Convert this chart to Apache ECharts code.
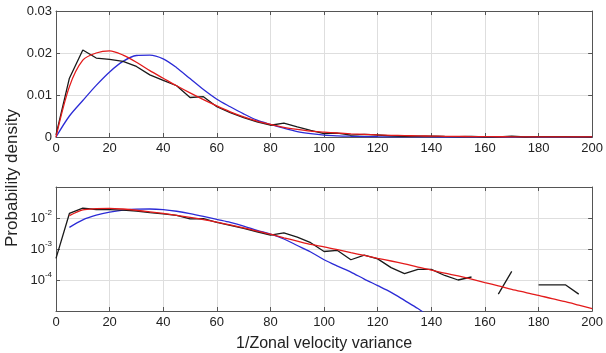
<!DOCTYPE html>
<html><head><meta charset="utf-8">
<script src="https://cdn.jsdelivr.net/npm/echarts@6/dist/echarts.min.js"></script>
<style>html,body{margin:0;padding:0;background:#fff}#c{width:606px;height:353px}</style>
</head><body><div id="c"></div><script>
// x positions (1/Zonal velocity variance)
const xVals = [0,5,10,15,20,25,30,35,40,45,50,55,60,65,70,75,80,85,90,95,100,105,110,115,120,125,130,135,140,145,150,155,160,165,170,175,180,185,190,195,200];
// empirical histogram (black)
const blackVals = [0.0005,0.014,0.0207,0.0188,0.0185,0.018,0.0168,0.0148,0.0135,0.0122,0.0094,0.0096,0.0072,0.0058,0.0046,0.0036,0.0028,0.0033,0.0024,0.0016,0.00083,0.0009,0.00045,0.00063,0.00048,0.00025,0.00016,0.00022,0.00022,0.00014,0.0001,0.000125,0,0.000035,0.00019,0,0.00007,0.00007,0.00007,0.000035,0];
// fitted curve (red)
const redVals = [0,0.012,0.0183,0.0200,0.0205,0.0195,0.0178,0.0158,0.0140,0.0122,0.0105,0.0089,0.0074,0.006,0.0048,0.0038,0.003,0.0023,0.0018,0.0014,0.00117,0.00095,0.00076,0.00062,0.0005,0.00041,0.00033,0.00026,0.00021,0.000166,0.000135,0.000107,0.000083,0.000065,0.00005,0.00004,0.000032,0.000025,0.00002,0.0000155,0.000012];
// fitted curve (blue)
const blueVals = [0,0.005,0.0087,0.0123,0.0155,0.0180,0.0194,0.0195,0.0186,0.0165,0.0139,0.0113,0.0090,0.0072,0.0055,0.0040,0.003,0.0021,0.0013,0.0008,0.00045,0.00028,0.00018,0.000107,0.000066,0.00004,0.000022,0.000012,0.000006,0.000003,0.0000015,7e-7,3e-7,1.5e-7,7e-8,3e-8,1.5e-8,7e-9,3e-9,1.5e-9,7e-10];
const xTicks = {min:0, max:200, interval:20};
const linTicks = {min:0, max:0.03, interval:0.01};
const logRange = {min:1e-5, max:1e-1};
const logLabelExps = [-2,-3,-4];

const lin = v => xVals.map((x,i)=>[x, v[i]]);
const logd = v => xVals.map((x,i)=>[x, v[i] > 0 ? v[i] : null]);

const frameColor = '#555';
const gridColor = '#dedede';
const txt = '#222';
const font = 'Liberation Sans, Arial, sans-serif';

function xAx(g, pos, main) {
  return {
    gridIndex: g, type: 'value', position: pos, min: xTicks.min, max: xTicks.max, interval: xTicks.interval,
    axisLine: {show: true, onZero: false, lineStyle: {color: frameColor, width: 1}},
    axisTick: {show: true, inside: true, length: 4, lineStyle: {color: frameColor}},
    axisLabel: {show: main, color: txt, fontSize: 13, fontFamily: font, margin: 5},
    splitLine: {show: main, lineStyle: {color: gridColor, width: 1}},
    name: (main && g === 1) ? '1/Zonal velocity variance' : '',
    nameLocation: 'middle', nameGap: 25,
    nameTextStyle: {color: txt, fontSize: 16, fontFamily: font}
  };
}
function yLin(pos, main) {
  return {
    gridIndex: 0, type: 'value', position: pos, min: linTicks.min, max: linTicks.max, interval: linTicks.interval,
    axisLine: {show: true, onZero: false, lineStyle: {color: frameColor}},
    axisTick: {show: true, inside: true, length: 4, lineStyle: {color: frameColor}},
    axisLabel: {show: main, color: txt, fontSize: 13, fontFamily: font, margin: 4,
      formatter: v => v === 0 ? '0' : v.toFixed(2)},
    splitLine: {show: main, lineStyle: {color: gridColor}}
  };
}
function yLog(pos, main) {
  return {
    gridIndex: 1, type: 'log', logBase: 10, position: pos, min: logRange.min, max: logRange.max,
    axisLine: {show: true, onZero: false, lineStyle: {color: frameColor}},
    axisTick: {show: true, inside: true, length: 4, lineStyle: {color: frameColor}},
    axisLabel: {show: main, color: txt, fontFamily: font, margin: 4,
      formatter: v => { const e = Math.round(Math.log10(v)); return logLabelExps.indexOf(e) >= 0 ? '{b|10}{s|' + e + '}' : ''; },
      rich: {b: {fontSize: 13, fontFamily: font, color: txt, lineHeight: 18},
             s: {fontSize: 8, fontFamily: font, color: txt, verticalAlign: 'top', lineHeight: 9}}},
    splitLine: {show: main, lineStyle: {color: gridColor}}
  };
}
function ser(data, color, xi, yi, z, smooth) {
  return {type: 'line', data: data, xAxisIndex: xi, yAxisIndex: yi, showSymbol: false, symbol: 'none',
    smooth: smooth, lineStyle: {color: color, width: 1.3}, connectNulls: false, z: z, animation: false, clip: true};
}

const chart = echarts.init(document.getElementById('c'), null, {renderer: 'canvas'});
chart.setOption({
  animation: false,
  backgroundColor: '#fff',
  grid: [
    {left: 56, width: 539, top: 11, height: 126},
    {left: 56, width: 539, top: 187, height: 126}
  ],
  xAxis: [xAx(0,'bottom',true), xAx(0,'top',false), xAx(1,'bottom',true), xAx(1,'top',false)],
  yAxis: [yLin('left',true), yLin('right',false), yLog('left',true), yLog('right',false)],
  graphic: [{type: 'text', x: 12, y: 178, rotation: Math.PI/2,
    style: {text: 'Probability density', fill: txt, fontSize: 17, fontFamily: font, align: 'center', verticalAlign: 'middle'}}],
  series: [
    ser(lin(blueVals), '#2b2bd6', 0, 0, 3, 0.3),
    ser(lin(blackVals), '#1a1a1a', 0, 0, 4, false),
    ser(lin(redVals), '#e31b1b', 0, 0, 5, 0.3),
    ser(logd(blueVals), '#2b2bd6', 2, 2, 3, 0.3),
    ser(logd(blackVals), '#1a1a1a', 2, 2, 4, false),
    ser(logd(redVals), '#e31b1b', 2, 2, 5, 0.3)
  ]
});
</script></body></html>
